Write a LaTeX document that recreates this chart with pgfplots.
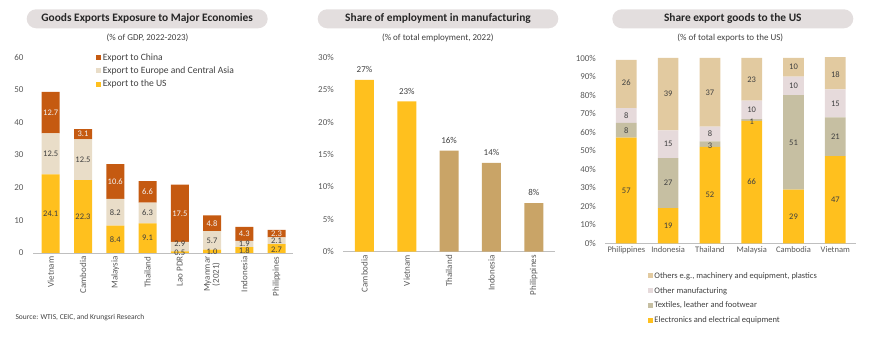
\documentclass[border=0pt]{standalone}
\usepackage{pgfplots}
\pgfplotsset{compat=1.18}
\usepackage{fontspec}
\setmainfont{Carlito}
\definecolor{chinaC}{HTML}{C55A11}
\definecolor{europeC}{HTML}{E9DDC8}
\definecolor{usC}{HTML}{FFC01E}
\definecolor{tanC}{HTML}{C9A467}
\definecolor{othersC}{HTML}{E2CAA0}
\definecolor{othmfgC}{HTML}{E6DADB}
\definecolor{textileC}{HTML}{C6BFA2}
\definecolor{pillC}{HTML}{E3DEDE}
\definecolor{txtC}{HTML}{404040}
\definecolor{tickC}{HTML}{595959}
\definecolor{lineC}{HTML}{BFBFBF}
\newcommand{\fs}[1]{\fontsize{#1}{#1}\selectfont}

\pgfplotsset{
  myaxis/.style={
    scale only axis, anchor=south west,
    axis lines*=left,
    x axis line style={lineC, line width=0.8pt},
    y axis line style={draw=none},
    major tick length=0pt,
    tick style={draw=none},
    /pgf/number format/assume math mode=true,
    yticklabel style={font=\fs{9}, text=tickC, xshift=-6pt},
    xticklabel style={font=\fs{9}, text=tickC},
  },
  labaxis/.style={
    scale only axis, anchor=south west, hide axis, clip=false,
  },
  lab/.style={only marks, mark=none, nodes near coords, point meta=explicit symbolic,
     nodes near coords align={center},
     every node near coord/.append style={font=\fs{8.5}, text=#1, inner sep=0pt}},
}

\begin{document}
\begin{tikzpicture}[x=1pt,y=1pt]
\path[use as bounding box] (0,0) rectangle (870,342);

% ---------- titles ----------
\fill[pillC, rounded corners=9.5pt] (26.7,313.7) rectangle (267.7,332.7);
\node[font=\bfseries\fs{11.4}, text=black!85] at (147.2,323.2) {Goods Exports Exposure to Major Economies};
\node[font=\fs{9}, text=txtC] at (147.5,303.7) {(\% of GDP, 2022-2023)};

\fill[pillC, rounded corners=9.5pt] (317.7,313.7) rectangle (558.3,332.7);
\node[font=\bfseries\fs{11.4}, text=black!85] at (438,323.2) {Share of employment in manufacturing};
\node[font=\fs{9}, text=txtC] at (437.8,303.7) {(\% of total employment, 2022)};

\fill[pillC, rounded corners=9.5pt] (612.3,313.7) rectangle (853.3,332.7);
\node[font=\bfseries\fs{11.4}, text=black!85] at (732.8,323.2) {Share export goods to the US};
\node[font=\fs{9}, text=txtC] at (730.3,303.7) {(\% of total exports to the US)};

\node[font=\fs{7.5}, text=txtC, anchor=west] at (12,24.7) {Source: WTIS, CEIC, and Krungsri Research};

% ---------- panel 1 ----------
\begin{axis}[myaxis,
  at={(33pt,89pt)}, width=259.7pt, height=196pt,
  xmin=-0.55, xmax=7.5, ymin=0, ymax=60,
  ybar stacked, bar width=18pt,
  xtick={0,...,7},
  xticklabels={Vietnam,Cambodia,Malaysia,Thailand,Lao PDR,{Myanmar\\(2021)},Indonesia,Philippines},
  xticklabel style={rotate=90, anchor=east, align=center},
  ytick={0,10,...,60},
  legend style={at={(0.243,1.026)}, anchor=north west, draw=none, fill=none,
    font=\fs{9.6}, text=txtC, row sep=2pt, inner sep=0pt, nodes={inner sep=1.5pt}},
  legend cell align=left, reverse legend,
  legend image code/.code={\fill[#1] (0pt,-2.5pt) rectangle (5pt,2.5pt);},
]
\addplot[fill=usC, draw=none] coordinates {(0,24.1)(1,22.3)(2,8.4)(3,9.1)(4,0.5)(5,1.0)(6,1.8)(7,2.7)};
\addlegendentry{Export to the US}
\addplot[fill=europeC, draw=none] coordinates {(0,12.5)(1,12.5)(2,8.2)(3,6.3)(4,2.9)(5,5.7)(6,1.9)(7,2.1)};
\addlegendentry{Export to Europe and Central Asia}
\addplot[fill=chinaC, draw=none] coordinates {(0,12.7)(1,3.1)(2,10.6)(3,6.6)(4,17.5)(5,4.8)(6,4.3)(7,2.3)};
\addlegendentry{Export to China}
\end{axis}
\begin{axis}[labaxis, at={(33pt,89pt)}, width=259.7pt, height=196pt,
  xmin=-0.55, xmax=7.5, ymin=0, ymax=60]
\addplot[lab=txtC] coordinates {(0,12.05)[24.1] (1,11.15)[22.3] (2,4.2)[8.4] (3,4.55)[9.1] (4,0.1)[0.5] (5,0.3)[1.0] (6,0.7)[1.8] (7,1.1)[2.7]};
\addplot[lab=txtC] coordinates {(0,30.35)[12.5] (1,28.55)[12.5] (2,12.5)[8.2] (3,12.25)[6.3] (4,2.8)[2.9] (5,3.7)[5.7] (6,2.85)[1.9] (7,3.75)[2.1]};
\addplot[lab=white!95!black] coordinates {(0,42.95)[12.7] (1,36.35)[3.1] (2,21.9)[10.6] (3,18.7)[6.6] (4,12.15)[17.5] (5,9.1)[4.8] (6,5.95)[4.3] (7,6.0)[2.3]};
\end{axis}

% ---------- panel 2 ----------
\begin{axis}[myaxis,
  at={(343.3pt,90.3pt)}, width=211.7pt, height=194.4pt,
  xmin=-0.5, xmax=4.5, ymin=0, ymax=30,
  ybar, bar width=19pt, bar shift=0pt,
  xtick={0,...,4},
  xticklabels={Cambodia,Vietnam,Thailand,Indonesia,Philippines},
  xticklabel style={rotate=90, anchor=east},
  ytick={0,5,...,30},
  yticklabel={\pgfmathprintnumber{\tick}\%},
  nodes near coords, point meta=explicit symbolic,
  every node near coord/.append style={font=\fs{9}, text=txtC, yshift=3.5pt},
]
\addplot[fill=usC, draw=none] coordinates {(0,26.5)[27\%] (1,23.2)[23\%]};
\addplot[fill=tanC, draw=none] coordinates {(2,15.6)[16\%] (3,13.7)[14\%] (4,7.5)[8\%]};
\end{axis}

% ---------- panel 3 ----------
\begin{axis}[myaxis,
  at={(605.4pt,98.7pt)}, width=250.8pt, height=185.3pt,
  xmin=-0.5, xmax=5.5, ymin=0, ymax=100,
  ybar stacked, bar width=20.7pt,
  xtick={0,...,5},
  xticklabels={Philippines,Indonesia,Thailand,Malaysia,Cambodia,Vietnam},
  xticklabel style={font=\fs{8.5}},
  ytick={0,10,...,100},
  yticklabel={\pgfmathprintnumber{\tick}\%},
  legend style={at={(0.169,-0.147)}, anchor=north west, draw=none, fill=none,
    font=\fs{8.5}, text=txtC, row sep=4.5pt, inner sep=0pt, nodes={inner sep=1.5pt}},
  legend cell align=left, reverse legend,
  legend image code/.code={\fill[#1] (0pt,-2.5pt) rectangle (5pt,2.5pt);},
]
\addplot[fill=usC, draw=none] coordinates {(0,57)(1,19)(2,52)(3,66)(4,29)(5,47)};
\addlegendentry{Electronics and electrical equipment}
\addplot[fill=textileC, draw=none] coordinates {(0,8)(1,27)(2,3)(3,1)(4,51)(5,21)};
\addlegendentry{Textiles, leather and footwear}
\addplot[fill=othmfgC, draw=none] coordinates {(0,8)(1,15)(2,8)(3,10)(4,10)(5,15)};
\addlegendentry{Other manufacturing}
\addplot[fill=othersC, draw=none] coordinates {(0,26)(1,39)(2,37)(3,23)(4,10)(5,18)};
\addlegendentry{Others e.g., machinery and equipment, plastics}
\end{axis}
\begin{axis}[labaxis, at={(605.4pt,98.7pt)}, width=250.8pt, height=185.3pt,
  xmin=-0.5, xmax=5.5, ymin=0, ymax=100]
\addplot[lab=txtC] coordinates {(0,28.5)[57] (1,9.5)[19] (2,26)[52] (3,33)[66] (4,14.5)[29] (5,23.5)[47]};
\addplot[lab=txtC] coordinates {(0,61)[8] (1,32.5)[27] (2,52.5)[3] (3,65.7)[1] (4,54.5)[51] (5,57.5)[21]};
\addplot[lab=txtC] coordinates {(0,69)[8] (1,53.5)[15] (2,59)[8] (3,72)[10] (4,85)[10] (5,75.5)[15]};
\addplot[lab=txtC] coordinates {(0,86.5)[26] (1,80.5)[39] (2,81.5)[37] (3,88.5)[23] (4,95)[10] (5,91)[18]};
\end{axis}
\end{tikzpicture}
\end{document}
